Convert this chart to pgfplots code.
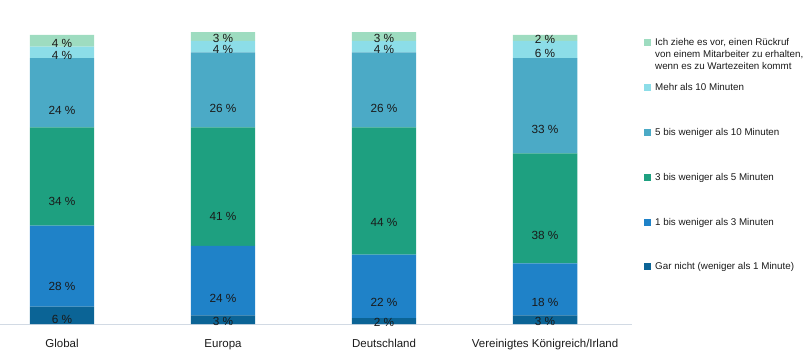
\documentclass[border=0pt]{standalone}
\usepackage{pgfplots}
\pgfplotsset{compat=1.18}
\usepackage{pgfplotstable}
\usepackage{fontspec}
\setmainfont{Liberation Sans}
\definecolor{cA}{HTML}{0B6496}
\definecolor{cB}{HTML}{1F82C8}
\definecolor{cC}{HTML}{1EA080}
\definecolor{cD}{HTML}{4BAAC6}
\definecolor{cE}{HTML}{8CDDE8}
\definecolor{cF}{HTML}{9EDCC0}
\definecolor{axc}{HTML}{D2DAE4}
\definecolor{lab}{HTML}{1A1A1A}
\pgfplotstableread{
x a b c d e f
0 6 28 34 24 4 4
1 3 24 41 26 4 3
2 2 22 44 26 4 3
3 3 18 38 33 6 2
}\datatable
\begin{document}
\begin{tikzpicture}
\useasboundingbox (0,-27bp) rectangle (804bp,324bp);
\begin{axis}[
  at={(0,0)}, anchor=south west,
  scale only axis, width=632bp, height=289bp,
  ybar stacked, bar width=0.4,
  xmin=-0.385, xmax=3.54, ymin=0, ymax=100,
  axis x line=bottom, axis y line=none,
  x axis line style={draw=axc, line width=1bp, -},
  xtick=data, xtick style={draw=none},
  xticklabels={Global,Europa,Deutschland,Vereinigtes Königreich/Irland},
  xticklabel style={font=\fontsize{11.5bp}{13bp}\selectfont, text=lab, yshift=-10bp},
  clip=false,
  point meta=explicit,
  /pgf/number format/assume math mode=true,
  nodes near coords={\pgfmathprintnumber{\pgfplotspointmeta}~\%},
  every node near coord/.append style={anchor=center, text=lab,
    font=\fontsize{11.8bp}{13bp}\selectfont,
    /utils/exec={\pgfkeys{/pgf/fpu=true,/pgf/fpu/output format=fixed}\pgfmathsetmacro\myshift{\pgfplotspointmeta*0.7225}\pgfkeys{/pgf/fpu=false}},
    yshift=-\myshift bp},
  legend image code/.code={\fill[#1] (0bp,-0.5bp) rectangle (7bp,6.5bp);},
  reverse legend,
  legend style={at={(rel axis cs:1,1)}, anchor=north west, xshift=12bp, yshift=0.5bp,
    draw=none, fill=none, inner sep=0pt, row sep=32.4bp, column sep=2bp,
    font=\fontsize{9.8bp}{12bp}\selectfont, text=lab,
    cells={anchor=base west, inner sep=0pt}},
]
\addplot[fill=cA, draw=none] table[x=x, y=a, meta=a] {\datatable};
\addlegendentry{Gar nicht (weniger als 1 Minute)}
\addplot[fill=cB, draw=none] table[x=x, y=b, meta=b] {\datatable};
\addlegendentry{1 bis weniger als 3 Minuten}
\addplot[fill=cC, draw=none] table[x=x, y=c, meta=c] {\datatable};
\addlegendentry{3 bis weniger als 5 Minuten}
\addplot[fill=cD, draw=none] table[x=x, y=d, meta=d] {\datatable};
\addlegendentry{5 bis weniger als 10 Minuten}
\addplot[fill=cE, draw=none] table[x=x, y=e, meta=e] {\datatable};
\addlegendentry{Mehr als 10 Minuten}
\addplot[fill=cF, draw=none] table[x=x, y=f, meta=f] {\datatable};
\addlegendentry{\begin{tabular}[t]{@{}l@{}}Ich ziehe es vor, einen Rückruf\\von einem Mitarbeiter zu erhalten,\\wenn es zu Wartezeiten kommt\end{tabular}}
\end{axis}
\end{tikzpicture}
\end{document}
